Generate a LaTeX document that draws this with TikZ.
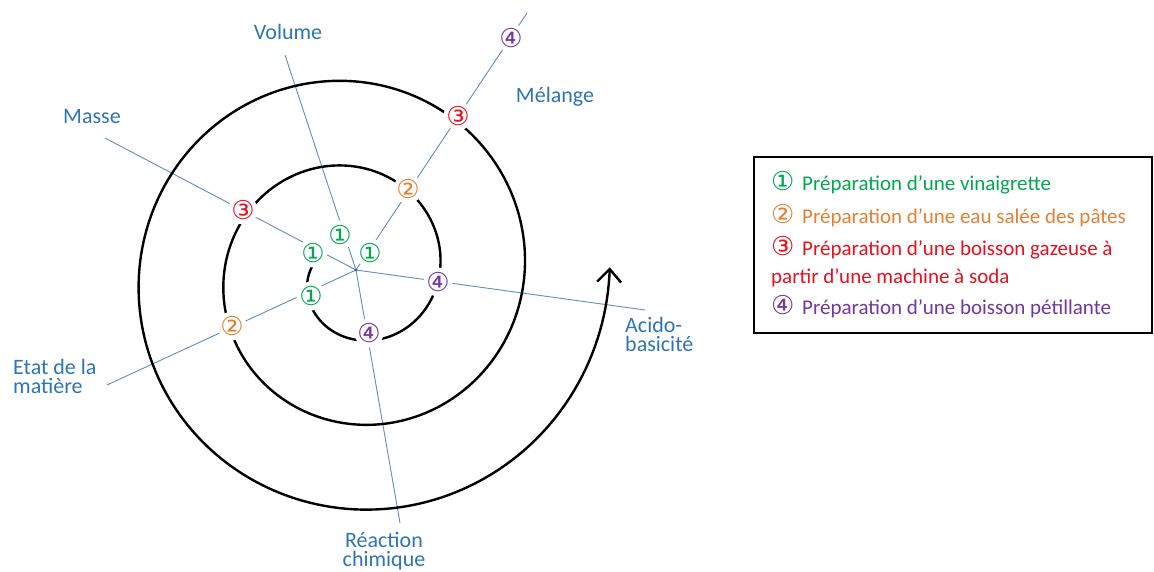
\documentclass[tikz,border=0pt]{standalone}
\usepackage{fontspec}
\setmainfont{Carlito}
\newfontfamily\circf{DejaVu Sans}
\usetikzlibrary{arrows.meta}
\definecolor{lblue}{RGB}{46,117,182}
\definecolor{axis}{RGB}{100,140,190}
\definecolor{cgreen}{RGB}{0,168,80}
\definecolor{corange}{RGB}{228,128,50}
\definecolor{cred}{RGB}{232,16,30}
\definecolor{cpurple}{RGB}{112,56,160}
\newcommand\cglyph[1]{{\circf\fontsize{26}{26}\selectfont #1}}
\begin{document}
\begin{tikzpicture}[x=1pt,y=-1pt,
  axisline/.style={draw=axis, line width=0.9pt},
  lbl/.style={text=lblue, font=\fontsize{22}{19}\selectfont, inner sep=0pt},
  mk/.style={circle, fill=white, inner sep=-0.5pt, font=\circf\fontsize{26}{26}\selectfont},
  spiral/.style={line width=2.4pt, line join=round},
  leg/.style={anchor=base west, inner sep=0pt, font=\fontsize{21}{26}\selectfont}]
\useasboundingbox (0,0) rectangle (1154,571);
\fill[white] (0,0) rectangle (1154,571);

% axis end points
\coordinate (O) at (356,270);
\coordinate (vE) at (285,55);
\coordinate (mE) at (527,13);
\coordinate (maE) at (105,138);
\coordinate (eE) at (107,385);
\coordinate (rE) at (400,523);
\coordinate (aE) at (645,310);

\draw[axisline] (vE) -- (O);
\draw[axisline] (O) -- (mE);
\draw[axisline] (maE) -- (O);
\draw[axisline] (eE) -- (O);
\draw[axisline] (O) -- (rE);
\draw[axisline] (O) -- (aE);
\fill[axis!70!black] (O) circle (1.6pt);

% spiral
\draw[spiral, -{Straight Barb[length=13pt,width=24pt]}]
  plot[domain=190:-721.5, samples=500, variable=\t]
  ({353+(44+0.236111*(180-\t))*cos(\t)}, {274+(44+0.236111*(180-\t))*sin(\t)});

% markers
\node[mk, text=cgreen] (g1) at (340,235) {①};
\node[mk, text=cgreen] (g2) at (313,253) {①};
\node[mk, text=cgreen] (g3) at (370,253) {①};
\node[mk, text=cgreen] (g4) at (311,296) {①};
\node[mk, text=corange] (o1) at (408,189) {②};
\node[mk, text=corange] (o2) at (232,326) {②};
\node[mk, text=cred] (r1) at (243,210) {③};
\node[mk, text=cred] (r2) at (458,116) {③};
\node[mk, text=cpurple] (p1) at (511,38) {④};
\node[mk, text=cpurple] (p2) at (438,282) {④};
\node[mk, text=cpurple] (p3) at (369,333) {④};

% labels
\node[lbl] (tVol) at (288,32) {Volume};
\node[lbl] (tMel) at (555,97) {Mélange};
\node[lbl] (tMas) at (92,117) {Masse};
\node[lbl, anchor=west, align=left] (tEtat) at (13,376) {Etat de la\\matière};
\node[lbl, anchor=west, align=left] (tAci) at (625,334) {Acido-\\basicité};
\node[lbl, align=center] (tRea) at (384,551) {Réaction\\chimique};

% legend
\draw[line width=1.2pt] (754,157) rectangle (1152,333);
\node[leg, text=cgreen] (L1) at (771,190) {\makebox[31pt][l]{\cglyph{①}}Préparation d’une vinaigrette};
\node[leg, text=corange] (L2) at (771,223) {\makebox[31pt][l]{\cglyph{②}}Préparation d’une eau salée des pâtes};
\node[leg, text=cred] (L3) at (771,255) {\makebox[31pt][l]{\cglyph{③}}Préparation d’une boisson gazeuse à};
\node[leg, text=cred] (L3b) at (771,283) {partir d’une machine à soda};
\node[leg, text=cpurple] (L4) at (771,314) {\makebox[31pt][l]{\cglyph{④}}Préparation d’une boisson pétillante};
\end{tikzpicture}
\end{document}
